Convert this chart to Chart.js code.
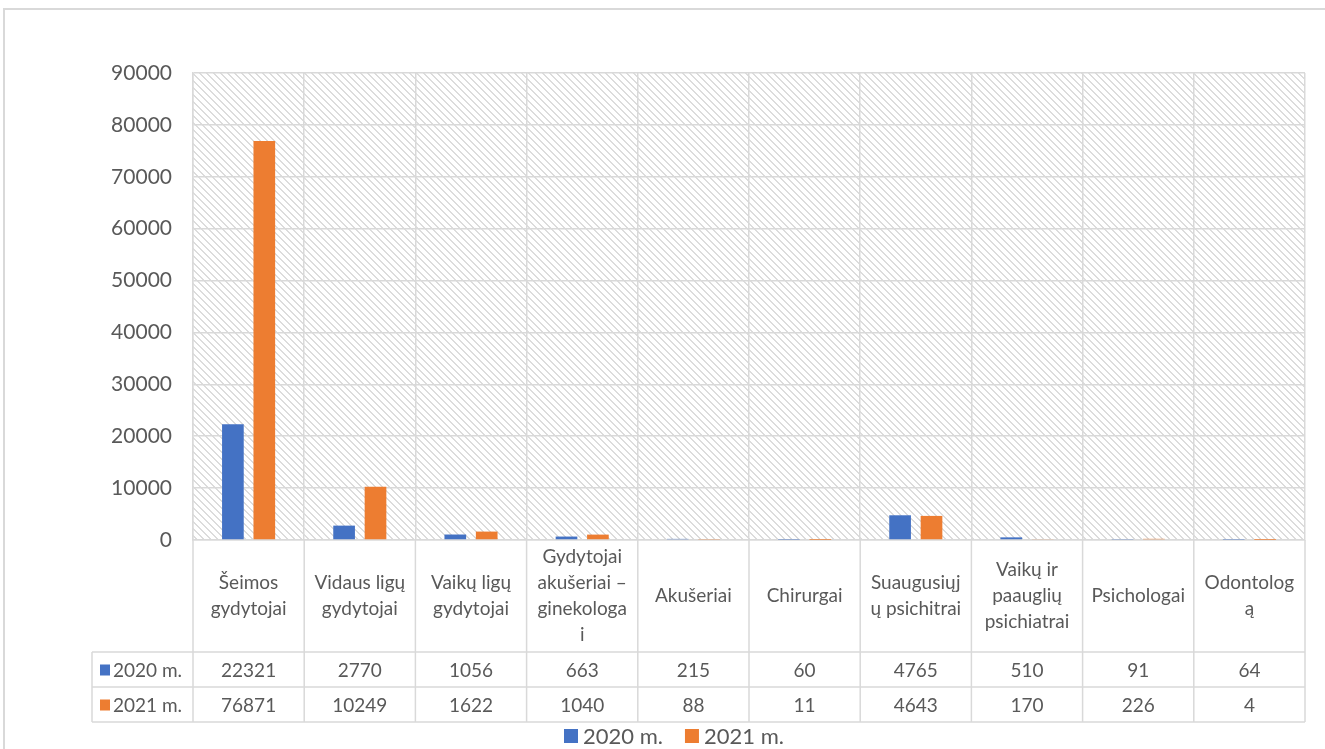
<!DOCTYPE html>
<html>
<head>
<meta charset="utf-8">
<script src="https://cdn.jsdelivr.net/npm/chart.js@4.4.1/dist/chart.umd.min.js"></script>
<style>
  html, body { margin: 0; padding: 0; background: #ffffff; }
  #wrap { position: relative; width: 1325px; height: 749px; overflow: hidden; }
  canvas { display: block; }
</style>
</head>
<body>
<div id="wrap"><canvas id="c" width="1325" height="749"></canvas></div>
<script>
// ---- data ----
const categories = [
  ["Šeimos", "gydytojai"],
  ["Vidaus ligų", "gydytojai"],
  ["Vaikų ligų", "gydytojai"],
  ["Gydytojai", "akušeriai –", "ginekologa", "i"],
  ["Akušeriai"],
  ["Chirurgai"],
  ["Suaugusiųj", "ų psichitrai"],
  ["Vaikų ir", "paauglių", "psichiatrai"],
  ["Psichologai"],
  ["Odontolog", "ą"]
];
const seriesNames = ["2020 m.", "2021 m."];
const values2020 = [22321, 2770, 1056, 663, 215, 60, 4765, 510, 91, 64];
const values2021 = [76871, 10249, 1622, 1040, 88, 11, 4643, 170, 226, 4];
const yTickMax = 90000;
const yTickStep = 10000;

// ---- styles ----
const BLUE = "#4472C4";
const ORANGE = "#ED7D31";
const GRID = "#d9d9d9";
const TEXT = "#595959";
const FONT = "Lato, 'Open Sans', sans-serif";

function makeHatch() {
  const p = 7;
  const c = document.createElement("canvas");
  c.width = p; c.height = p;
  const g = c.getContext("2d");
  g.fillStyle = "#ffffff";
  g.fillRect(0, 0, p, p);
  g.fillStyle = "#dcdcdc";
  for (let y = 0; y < p; y++) {
    for (let x = 0; x < p; x++) {
      const d = ((x - y) % p + p) % p;
      if (d < 2) g.fillRect(x, y, 1, 1);
    }
  }
  return c;
}

const tablePlugin = {
  id: "tablePlugin",
  beforeDraw(chart) {
    const ctx = chart.ctx;
    const a = chart.chartArea;
    ctx.save();
    ctx.fillStyle = "#ffffff";
    ctx.fillRect(0, 0, chart.width, chart.height);
    // outer frame
    ctx.strokeStyle = GRID;
    ctx.lineWidth = 2;
    ctx.strokeRect(4, 9, chart.width + 20, chart.height + 20);
    // hatch
    const pat = ctx.createPattern(makeHatch(), "repeat");
    ctx.fillStyle = pat;
    ctx.fillRect(a.left, a.top, a.right - a.left, a.bottom - a.top);
    ctx.restore();
  },
  afterDraw(chart) {
    const ctx = chart.ctx;
    const xs = chart.scales.x;
    const n = categories.length;
    const left = xs.left, right = xs.right;
    const cw = (right - left) / n;
    const top = chart.chartArea.bottom;
    const headerH = 112, rowH = 35;
    const r1 = top + headerH, r2 = r1 + rowH, r3 = r2 + rowH;
    const legLeft = 92;
    ctx.save();
    ctx.strokeStyle = GRID;
    ctx.lineWidth = 1.5;
    ctx.beginPath();
    for (let i = 0; i <= n; i++) {
      const x = left + i * cw;
      ctx.moveTo(x, top); ctx.lineTo(x, r3);
    }
    ctx.moveTo(legLeft, r1); ctx.lineTo(legLeft, r3);
    [r1, r2, r3].forEach(y => { ctx.moveTo(legLeft, y); ctx.lineTo(right, y); });
    ctx.stroke();

    ctx.fillStyle = TEXT;
    ctx.textAlign = "center";
    ctx.textBaseline = "middle";
    ctx.font = "19px " + FONT;
    const lh = 26;
    categories.forEach((lines, i) => {
      const cx = xs.getPixelForTick(i);
      const cy = top + headerH / 2;
      const y0 = cy - (lines.length - 1) * lh / 2;
      lines.forEach((t, k) => ctx.fillText(t, cx, y0 + k * lh));
    });
    const rows = [values2020, values2021];
    const colors = [BLUE, ORANGE];
    rows.forEach((vals, r) => {
      const cy = r1 + rowH * r + rowH / 2;
      ctx.textAlign = "center";
      ctx.fillStyle = TEXT;
      vals.forEach((v, i) => ctx.fillText(String(v), xs.getPixelForTick(i), cy + 1));
      ctx.fillStyle = colors[r];
      ctx.fillRect(100, cy - 5, 10, 11);
      ctx.fillStyle = TEXT;
      ctx.textAlign = "left";
      ctx.fillText(seriesNames[r], 113, cy + 1);
    });

    // bottom legend
    ctx.font = "22px " + FONT;
    ctx.textAlign = "left";
    let lx = 564;
    const ly = 736;
    seriesNames.forEach((name, i) => {
      ctx.fillStyle = colors[i];
      ctx.fillRect(lx, ly - 7, 14, 14);
      ctx.fillStyle = TEXT;
      ctx.fillText(name, lx + 19, ly + 1);
      lx += 19 + ctx.measureText(name).width + 22;
    });
    ctx.restore();
  }
};

new Chart(document.getElementById("c"), {
  type: "bar",
  data: {
    labels: categories,
    datasets: [
      { label: seriesNames[0], data: values2020, backgroundColor: BLUE, borderWidth: 0 },
      { label: seriesNames[1], data: values2021, backgroundColor: ORANGE, borderWidth: 0 }
    ]
  },
  options: {
    responsive: false,
    animation: false,
    layout: { padding: { top: 73, right: 20, bottom: 209, left: 0 } },
    datasets: { bar: { categoryPercentage: 0.565, barPercentage: 0.69 } },
    plugins: { legend: { display: false }, tooltip: { enabled: false } },
    scales: {
      x: {
        offset: true,
        grid: { offset: true, color: GRID, lineWidth: 1.5, drawTicks: false },
        border: { color: GRID, width: 1.5 },
        ticks: { display: false }
      },
      y: {
        min: 0,
        max: yTickMax,
        ticks: {
          stepSize: yTickStep, color: TEXT, font: { family: FONT, size: 21 }, padding: 21,
          callback: v => String(v)
        },
        grid: { color: GRID, lineWidth: 1.5, drawTicks: false },
        border: { color: GRID, width: 1.5 },
        afterFit(scale) { scale.width = 193; }
      }
    }
  },
  plugins: [tablePlugin]
});
</script>
</body>
</html>
